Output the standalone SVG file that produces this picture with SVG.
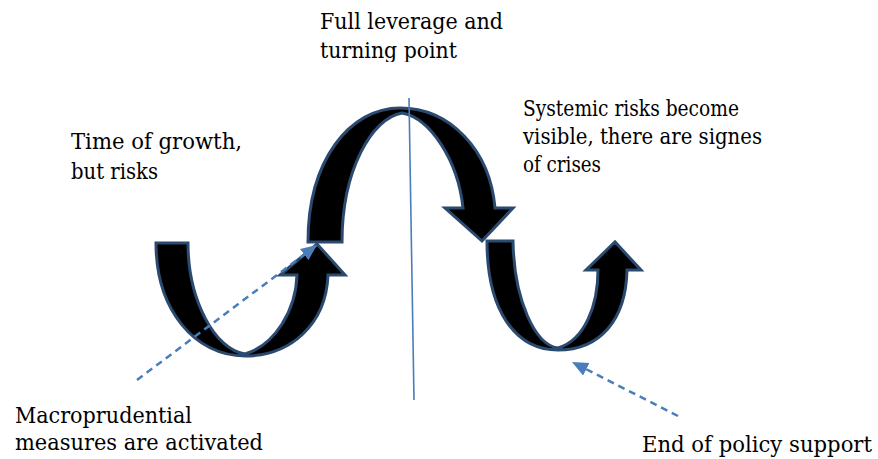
<svg xmlns="http://www.w3.org/2000/svg" width="878" height="459" viewBox="0 0 878 459">
<style>
.band{fill:#000;stroke:#2b4a70;stroke-width:3;stroke-linejoin:miter}
.lbl{font-family:'DejaVu Serif',serif;font-size:21.5px;fill:#000}
.dash{fill:none;stroke:#4a7ebb;stroke-width:2.5;stroke-dasharray:7 5}
.axis{fill:none;stroke:#4a7ebb;stroke-width:1.6}
</style>
<defs>
<marker id="ah" markerUnits="userSpaceOnUse" markerWidth="18" markerHeight="16" refX="16" refY="8" orient="auto">
<path d="M0,1 L16,8 L0,15 Z" fill="#4a7ebb"/>
</marker>
<clipPath id="topclip"><rect x="0" y="0" width="878" height="62"/></clipPath>
</defs>
<rect width="878" height="459" fill="#fff"/>
<g id="curve-growth">
<path class="band" d="M156,243 L188,243 C188,300 215,350 245,354 C275,345 296,310 297,275 L280,275 L317,244 L345,275 L328,275 C326,325 290,356 245,356 C195,356 156,310 156,243 Z"/>
</g>
<g id="curve-peak">
<path class="band" d="M308,242 C308,160 350,108 400,108 C450,108 490,150 495,208 L513,208 L482,241 L445,208 L463,208 C458,160 430,118 402,113 C372,118 342,170 342,242 Z"/>
</g>
<g id="curve-crisis">
<path class="band" d="M487,241 L513,241 C514,300 535,345 558,348 C585,340 598,305 598,270 L586,270 L615,242 L641,270 L627,270 C626,320 600,350 558,350 C515,350 487,310 487,241 Z"/>
</g>
<g id="turning-axis">
<line class="axis" x1="409" y1="98" x2="414" y2="400"/>
</g>
<g id="connectors">
<line class="dash" x1="137" y1="380" x2="317" y2="245" marker-end="url(#ah)"/>
<line class="dash" x1="678" y1="416" x2="572" y2="362" marker-end="url(#ah)"/>
</g>
<g id="label-full-leverage" clip-path="url(#topclip)">
<text class="lbl" x="320" y="29" textLength="183" lengthAdjust="spacingAndGlyphs">Full leverage and</text>
<text class="lbl" x="320" y="58" textLength="137" lengthAdjust="spacingAndGlyphs">turning point</text>
</g>
<g id="label-growth">
<text class="lbl" x="71" y="149" textLength="171" lengthAdjust="spacingAndGlyphs">Time of growth,</text>
<text class="lbl" x="71" y="179" textLength="87" lengthAdjust="spacingAndGlyphs">but risks</text>
</g>
<g id="label-systemic">
<text class="lbl" x="523" y="116" textLength="216" lengthAdjust="spacingAndGlyphs">Systemic risks become</text>
<text class="lbl" x="523" y="144" textLength="239" lengthAdjust="spacingAndGlyphs">visible, there are signes</text>
<text class="lbl" x="523" y="172" textLength="78" lengthAdjust="spacingAndGlyphs">of crises</text>
</g>
<g id="label-macro">
<text class="lbl" x="15" y="423" textLength="177" lengthAdjust="spacingAndGlyphs">Macroprudential</text>
<text class="lbl" x="15" y="450" textLength="248" lengthAdjust="spacingAndGlyphs">measures are activated</text>
</g>
<g id="label-end">
<text class="lbl" x="642" y="452" textLength="230" lengthAdjust="spacingAndGlyphs">End of policy support</text>
</g>
</svg>
